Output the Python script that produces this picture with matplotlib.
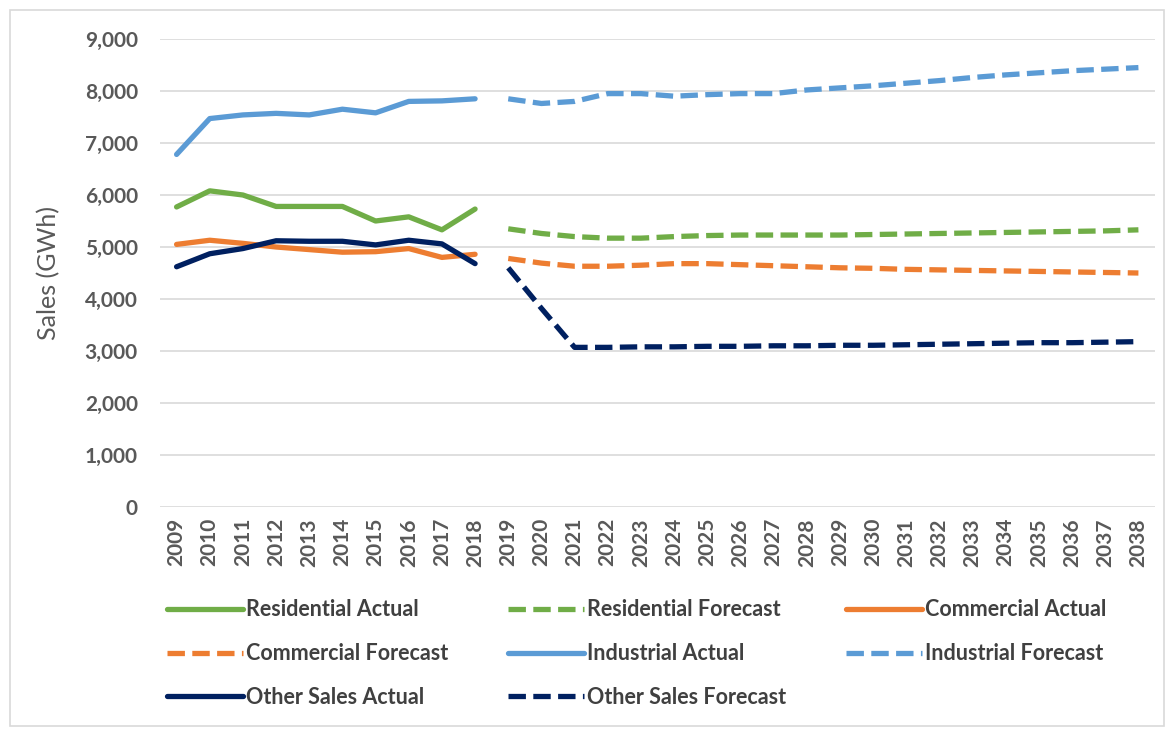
import numpy as np
import matplotlib.pyplot as plt
from matplotlib.patches import Rectangle

# years
actual_years = list(range(2009, 2019))
forecast_years = list(range(2019, 2039))

# sales (GWh)
residential_actual = [5770, 6080, 6000, 5780, 5780, 5780, 5500, 5580, 5330, 5730]
commercial_actual = [5050, 5130, 5070, 5000, 4950, 4900, 4910, 4970, 4800, 4860]
industrial_actual = [6780, 7470, 7540, 7570, 7540, 7650, 7580, 7800, 7810, 7850]
other_actual = [4620, 4870, 4970, 5120, 5110, 5110, 5040, 5130, 5060, 4680]

residential_forecast = [5350, 5260, 5200, 5170, 5170, 5200, 5220, 5230, 5230, 5230,
                        5230, 5240, 5250, 5260, 5270, 5280, 5290, 5300, 5310, 5330]
commercial_forecast = [4780, 4690, 4630, 4630, 4650, 4680, 4680, 4660, 4640, 4620,
                       4600, 4590, 4570, 4560, 4550, 4540, 4530, 4520, 4510, 4500]
industrial_forecast = [7850, 7760, 7800, 7950, 7950, 7900, 7930, 7950, 7950, 8020,
                       8060, 8100, 8150, 8200, 8260, 8310, 8350, 8390, 8420, 8450]
other_forecast = [4600, 3820, 3070, 3070, 3080, 3080, 3090, 3090, 3100, 3100,
                  3110, 3110, 3120, 3130, 3140, 3150, 3160, 3160, 3170, 3180]

green = '#70AD47'
orange = '#ED7D31'
blue = '#5B9BD5'
navy = '#002060'
txt = '#595959'

plt.rcParams['font.family'] = ['Lato', 'DejaVu Sans']

W, H = 1173, 732
fig = plt.figure(figsize=(W / 100, H / 100), dpi=100)
ax = fig.add_axes([160 / W, 1 - 507 / H, (1155 - 160) / W, (507 - 39) / H])

lw = 3.8
dash = (0, (3.3, 1.4))

l_ra, = ax.plot(actual_years, residential_actual, color=green, lw=lw, solid_capstyle='round')
l_ca, = ax.plot(actual_years, commercial_actual, color=orange, lw=lw, solid_capstyle='round')
l_ia, = ax.plot(actual_years, industrial_actual, color=blue, lw=lw, solid_capstyle='round')
l_oa, = ax.plot(actual_years, other_actual, color=navy, lw=lw, solid_capstyle='round')

l_rf, = ax.plot(forecast_years, residential_forecast, color=green, lw=lw, ls=dash)
l_cf, = ax.plot(forecast_years, commercial_forecast, color=orange, lw=lw, ls=dash)
l_if, = ax.plot(forecast_years, industrial_forecast, color=blue, lw=lw, ls=dash)
l_of, = ax.plot(forecast_years, other_forecast, color=navy, lw=lw, ls=dash)

ax.set_xlim(2008.5, 2038.5)
ax.set_ylim(0, 9000)
ax.set_yticks(np.arange(0, 9001, 1000))
ax.set_yticklabels(['{:,}'.format(v) for v in range(0, 9001, 1000)])
years = actual_years + forecast_years
ax.set_xticks(years)
ax.set_xticklabels([str(y) for y in years], rotation=90)
ax.tick_params(axis='both', length=0, colors=txt, labelsize=15)
ax.tick_params(axis='y', pad=16)
ax.tick_params(axis='x', pad=8)
for lab in ax.get_xticklabels() + ax.get_yticklabels():
    lab.set_fontweight('bold')

ax.grid(axis='y', color='#D9D9D9', lw=1.2)
ax.set_axisbelow(True)
for s in ax.spines.values():
    s.set_visible(False)

ax.set_ylabel('Sales (GWh)', color=txt, fontsize=18)
ax.yaxis.set_label_coords(-0.1, 0.5)

handles = [l_ra, l_cf, l_oa, l_rf, l_ia, l_of, l_ca, l_if]
labels = ['Residential Actual', 'Commercial Forecast', 'Other Sales Actual',
          'Residential Forecast', 'Industrial Actual', 'Other Sales Forecast',
          'Commercial Actual', 'Industrial Forecast']
leg = fig.legend(handles, labels, ncol=3, loc='upper left',
                 bbox_to_anchor=(148 / W, 1 - 580 / H), frameon=False,
                 prop={'size': 15.5, 'weight': 'bold'}, handlelength=3.5,
                 handletextpad=0.15, columnspacing=2.8, labelspacing=1.06)
for t in leg.get_texts():
    t.set_color('#404040')

fig.patches.append(Rectangle((10 / W, 1 - 726 / H), (1164 - 10) / W, (726 - 10) / H,
                             transform=fig.transFigure, fill=False,
                             edgecolor='#D9D9D9', lw=1.2))

fig.savefig('out.png', dpi=100)
